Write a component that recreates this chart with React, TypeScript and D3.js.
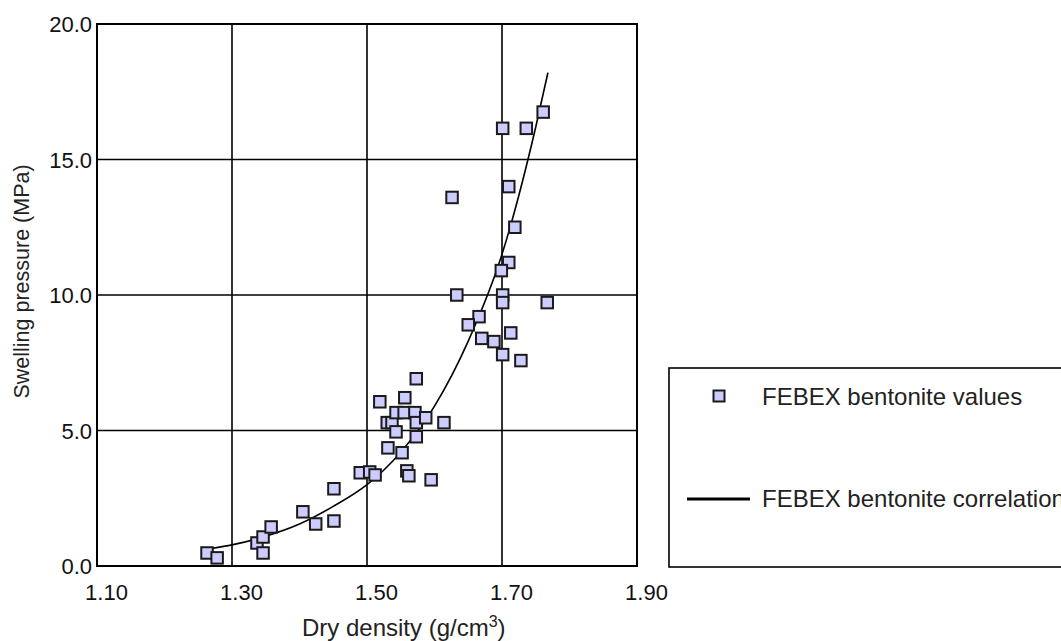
import React from "react";
import * as d3 from "d3";

// values: dry density (g/cm3), swelling pressure (MPa)
const densities = [
  1.263, 1.278, 1.337, 1.346, 1.358, 1.346, 1.405, 1.424, 1.451, 1.451,
  1.49, 1.504, 1.512, 1.531, 1.552, 1.559, 1.562, 1.595, 1.53, 1.537,
  1.543, 1.543, 1.555, 1.571, 1.573, 1.573, 1.587, 1.614, 1.519, 1.556,
  1.573, 1.626, 1.633, 1.701, 1.701, 1.767, 1.666, 1.65, 1.713, 1.67,
  1.688, 1.701, 1.728, 1.71, 1.719, 1.71, 1.699, 1.701, 1.736, 1.761,
];
const pressures = [
  0.48, 0.3, 0.85, 1.07, 1.44, 0.48, 2.0, 1.55, 2.85, 1.66,
  3.44, 3.47, 3.36, 4.36, 4.18, 3.51, 3.33, 3.18, 5.29, 5.29,
  4.95, 5.66, 5.66, 5.66, 5.29, 4.77, 5.47, 5.29, 6.06, 6.21,
  6.91, 13.6, 10.0, 10.0, 9.72, 9.72, 9.2, 8.9, 8.6, 8.4,
  8.28, 7.8, 7.58, 14.0, 12.5, 11.2, 10.9, 16.15, 16.15, 16.75,
];

// correlation curve
const corrDensity = [1.27, 1.3, 1.35, 1.4, 1.45, 1.5, 1.55, 1.6, 1.65, 1.7, 1.75, 1.768];
const corrPressure = [0.65, 0.78, 1.1, 1.55, 2.2, 3.0, 4.2, 5.9, 8.3, 11.5, 16.2, 18.2];

const xTicks = [1.1, 1.3, 1.5, 1.7, 1.9];
const yTicks = [0, 5, 10, 15, 20];
const legendLabels = ["FEBEX bentonite values", "FEBEX bentonite correlation"];

const W = 1061;
const H = 641;
const font = "'Liberation Sans', Arial, sans-serif";

export default function App() {
  const x = d3.scaleLinear().domain([1.1, 1.9]).range([97, 637]);
  const y = d3.scaleLinear().domain([0, 20]).range([566, 24]);

  const points = densities.map((d, i) => [d, pressures[i]]);
  const corr = corrDensity.map((d, i) => [d, corrPressure[i]]);
  const line = d3
    .line<number[]>()
    .x((p) => x(p[0]))
    .y((p) => y(p[1]))
    .curve(d3.curveMonotoneX);

  const [x0, x1] = x.range();
  const [y0, y1] = y.range();
  const sq = 11.5;

  return (
    <svg
      width={W}
      height={H}
      style={{ position: "absolute", left: 0, top: 0, background: "#fff" }}
      fontFamily={font}
    >
      {/* grid */}
      {xTicks.slice(1, -1).map((t) => (
        <line key={"gx" + t} x1={x(t)} x2={x(t)} y1={y1} y2={y0} stroke="#000" strokeWidth={1.6} />
      ))}
      {yTicks.slice(1, -1).map((t) => (
        <line key={"gy" + t} x1={x0} x2={x1} y1={y(t)} y2={y(t)} stroke="#000" strokeWidth={1.6} />
      ))}
      <rect x={x0} y={y1} width={x1 - x0} height={y0 - y1} fill="none" stroke="#000" strokeWidth={2} />

      {/* tick labels */}
      {xTicks.map((t) => (
        <text key={"tx" + t} x={x(t) + 9.5} y={600} textAnchor="middle" fontSize={22} fill="#111">
          {t.toFixed(2)}
        </text>
      ))}
      {yTicks.map((t) => (
        <text key={"ty" + t} x={92} y={y(t) + 8} textAnchor="end" fontSize={22} fill="#111">
          {t.toFixed(1)}
        </text>
      ))}

      {/* axis titles */}
      <text x={302} y={636} fontSize={24} fill="#222">
        Dry density (g/cm<tspan dy={-9} fontSize={16}>3</tspan>
        <tspan dy={9}>)</tspan>
      </text>
      <text
        x={29}
        y={281.5}
        fontSize={21.5}
        fill="#222"
        textAnchor="middle"
        transform="rotate(-90, 29, 281.5)"
      >
        Swelling pressure (MPa)
      </text>

      {/* correlation */}
      <path d={line(corr) || ""} fill="none" stroke="#000" strokeWidth={1.6} />

      {/* data points */}
      {points.map((p, i) => (
        <rect
          key={"p" + i}
          x={x(p[0]) - sq / 2}
          y={y(p[1]) - sq / 2}
          width={sq}
          height={sq}
          fill="#ccccff"
          stroke="#1a1a1a"
          strokeWidth={2}
        />
      ))}

      {/* legend */}
      <rect x={669} y={368} width={420} height={199} fill="#fff" stroke="#000" strokeWidth={1.6} />
      <rect x={713.5} y={390.5} width={11} height={11} fill="#ccccff" stroke="#1a1a1a" strokeWidth={2} />
      <text x={762} y={405} fontSize={24} fill="#222">
        {legendLabels[0]}
      </text>
      <line x1={687} x2={750} y1={499} y2={499} stroke="#000" strokeWidth={3} />
      <text x={762} y={507} fontSize={24} fill="#222">
        {legendLabels[1]}
      </text>
    </svg>
  );
}
